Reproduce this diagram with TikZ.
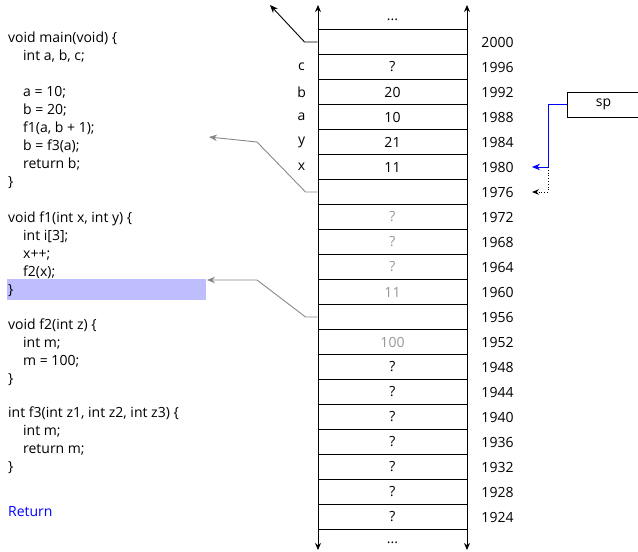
\documentclass[tikz,border=0pt]{standalone}
\usepackage{fontspec}
\setmainfont{Open Sans}
\usetikzlibrary{arrows.meta}
\definecolor{hlcol}{RGB}{190,190,255}
\definecolor{txtgray}{RGB}{150,150,150}
\definecolor{arrgray}{RGB}{136,136,136}
\begin{document}
\begin{tikzpicture}[x=1pt,y=-1pt,
  font=\fontsize{14}{16}\selectfont,
  cell/.style={draw, minimum width=149pt, minimum height=25pt, inner sep=0pt, line width=0.9pt},
  code/.style={anchor=base west, inner sep=0pt},
  tip/.style={-{Stealth[length=8pt,width=6.5pt]}},
  lbl/.style={inner sep=0pt}]
\useasboundingbox (0,0) rectangle (638,552);
% highlight
\fill[hlcol] (7,279) rectangle (206,300);
% memory cells
\foreach \i/\a/\v/\c in {0/2000//black,1/1996/?/black,2/1992/20/black,3/1988/10/black,
  4/1984/21/black,5/1980/11/black,6/1976//black,7/1972/?/txtgray,8/1968/?/txtgray,
  9/1964/?/txtgray,10/1960/11/txtgray,11/1956//black,12/1952/100/txtgray,
  13/1948/?/black,14/1944/?/black,15/1940/?/black,16/1936/?/black,17/1932/?/black,
  18/1928/?/black,19/1924/?/black}{
  \node[cell, text=\c] (r\i) at (392.5,{42+25*\i}) {\v};
  \node[lbl] (ad\i) at (497.5,{42+25*\i}) {\a};
}
% vertical lines
\coordinate (lt) at (318,5);
\coordinate (lb) at (318,550);
\coordinate (rt) at (467,5);
\coordinate (rb) at (467,550);
\draw[line width=0.9pt,{Stealth[length=7pt,width=6pt]}-{Stealth[length=7pt,width=6pt]}] (lb) -- (lt);
\draw[line width=0.9pt,{Stealth[length=7pt,width=6pt]}-{Stealth[length=7pt,width=6pt]}] (rb) -- (rt);
\node[lbl] (dtop) at (392.5,20) {...};
\node[lbl] (dbot) at (392.5,543) {...};
% variable names
\node[lbl] (nc) at ([xshift=-16pt]r1.west) {c};
\node[lbl] (nb) at ([xshift=-16pt]r2.west) {b};
\node[lbl] (na) at ([xshift=-16pt]r3.west) {a};
\node[lbl] (ny) at ([xshift=-16pt]r4.west) {y};
\node[lbl] (nx) at ([xshift=-16pt]r5.west) {x};
% return address arrow
\coordinate (ret) at (270,5);
\draw[tip, line width=0.9pt] (r0.west) -- ++(-13,0) -- (ret);
% gray return arrows
\coordinate (g1) at (209,137);
\coordinate (g2) at (207,280);
\draw[tip, arrgray, line width=0.9pt] (r6.west) -- ++(-12,0) -- (257,142) -- (g1);
\draw[tip, arrgray, line width=0.9pt] (r11.west) -- ++(-12,0) -- (257,280) -- (g2);
% sp
\node[draw, line width=0.9pt, minimum width=72pt, minimum height=25pt, inner sep=0pt] (sp) at (603.5,104.5) {sp};
\coordinate (bj) at (548,167);
\coordinate (b1980) at (532,167);
\coordinate (b1976) at (532,192);
\draw[tip, blue, line width=0.9pt] (sp.west) -| (bj) -- (b1980);
\draw[-{Stealth[length=7pt,width=5.5pt]}, dotted, line width=0.8pt] (bj) |- (b1976);
% code
\foreach \t [count=\k from 0] in {{void main(void) \{},{\hspace*{15pt}int a, b, c;},{},{\hspace*{15pt}a = 10;},{\hspace*{15pt}b = 20;},{\hspace*{15pt}f1(a, b + 1);},{\hspace*{15pt}b = f3(a);},{\hspace*{15pt}return b;},{\}}}
  \node[code] (m\k) at (8,{42+18.1*\k}) {\t};
\foreach \t [count=\k from 0] in {{void f1(int x, int y) \{},{\hspace*{15pt}int i[3];},{\hspace*{15pt}x++;},{\hspace*{15pt}f2(x);},{\}}}
  \node[code] (fa\k) at (8,{222+18.1*\k}) {\t};
\foreach \t [count=\k from 0] in {{void f2(int z) \{},{\hspace*{15pt}int m;},{\hspace*{15pt}m = 100;},{\}}}
  \node[code] (fb\k) at (8,{329+18.1*\k}) {\t};
\foreach \t [count=\k from 0] in {{int f3(int z1, int z2, int z3) \{},{\hspace*{15pt}int m;},{\hspace*{15pt}return m;},{\}}}
  \node[code] (fc\k) at (8,{417+18.1*\k}) {\t};
\node[code, text=blue] (retlink) at (8,516) {Return};
\end{tikzpicture}
\end{document}
